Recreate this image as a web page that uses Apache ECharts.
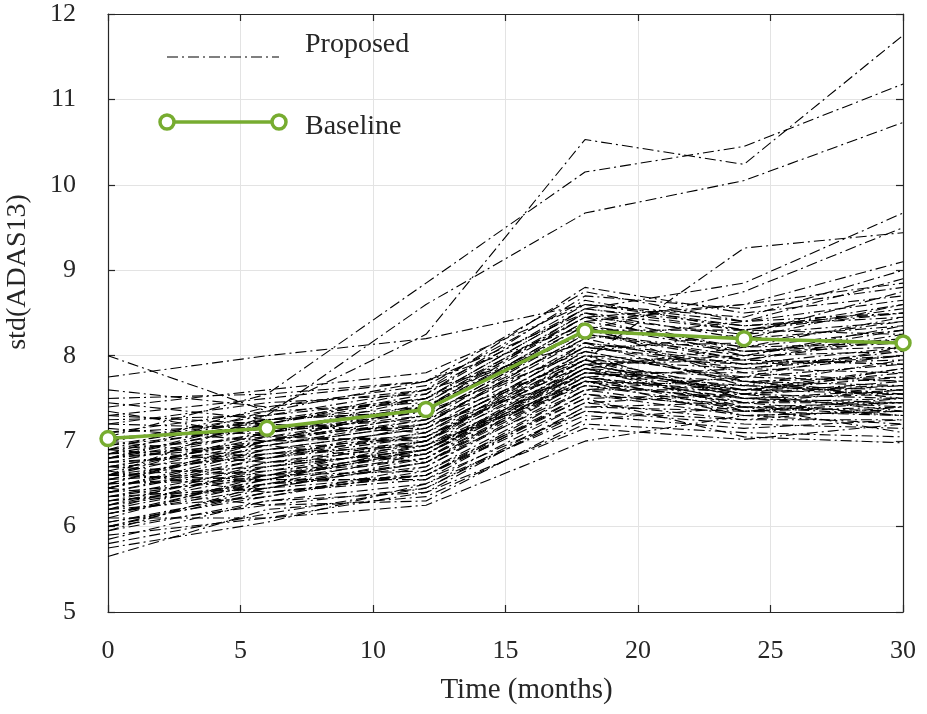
<!DOCTYPE html>
<html>
<head>
<meta charset="utf-8">
<title>std(ADAS13) over time</title>
<script src="https://cdn.jsdelivr.net/npm/echarts@6/dist/echarts.min.js"></script>
<style>
  html, body { margin: 0; padding: 0; background: #fff; }
  #chart { width: 927px; height: 714px; }
</style>
</head>
<body>
<div id="chart"></div>
<script>
// Visit times (months)
const months = [0, 6, 12, 18, 24, 30];

// Baseline model
const baseline = [7.03, 7.15, 7.37, 8.29, 8.20, 8.15];

// Proposed model: one row per run, values at each visit
const proposedRuns = [
  [6.85, 7.35, 8.25, 10.53, 10.24, 11.75],
  [7.05, 7.55, 8.85, 10.15, 10.45, 11.18],
  [6.60, 7.30, 8.60, 9.67, 10.05, 10.73],
  [6.70, 7.00, 7.25, 7.95, 9.26, 9.44],
  [7.75, 8.00, 8.20, 8.60, 8.40, 8.50],
  [8.00, 7.35, 7.70, 8.50, 8.30, 8.60],
  [6.90, 7.20, 7.60, 8.55, 8.85, 9.67],
  [6.50, 7.00, 7.40, 8.30, 8.75, 9.50],
  [6.80, 7.10, 7.50, 8.45, 8.60, 9.10],
  [7.00, 7.30, 7.60, 8.80, 8.50, 8.70],
  [7.30, 7.50, 7.70, 8.75, 8.40, 8.90],
  [7.20, 7.45, 7.55, 8.70, 8.55, 8.80],
  [6.90, 7.40, 7.65, 8.65, 8.30, 8.55],
  [7.40, 7.60, 7.80, 8.60, 8.45, 9.00],
  [6.80, 7.20, 7.50, 8.55, 8.35, 8.45],
  [7.10, 7.35, 7.45, 8.50, 8.20, 8.60],
  [6.60, 7.10, 7.40, 8.45, 8.25, 8.40],
  [6.95, 7.25, 7.35, 8.40, 8.60, 8.85],
  [7.50, 7.55, 7.70, 8.35, 8.10, 8.30],
  [6.70, 7.00, 7.30, 8.30, 8.30, 8.50],
  [7.25, 7.30, 7.50, 8.25, 8.05, 8.20],
  [6.50, 6.95, 7.20, 8.20, 8.40, 8.65],
  [7.60, 7.40, 7.60, 8.15, 7.95, 8.25],
  [6.85, 7.15, 7.25, 8.10, 8.15, 8.40],
  [7.35, 7.05, 7.35, 8.05, 8.25, 8.75],
  [6.75, 6.90, 7.15, 8.00, 7.90, 8.10],
  [6.60, 6.85, 7.10, 7.95, 7.85, 8.00],
  [7.15, 7.00, 7.05, 7.90, 8.00, 8.35],
  [6.45, 6.80, 7.00, 7.85, 7.75, 7.90],
  [6.90, 6.75, 6.95, 7.80, 7.60, 7.85],
  [6.35, 6.70, 6.90, 7.80, 7.70, 7.75],
  [7.00, 6.80, 7.20, 7.75, 7.50, 7.60],
  [6.55, 6.65, 6.85, 7.75, 7.55, 7.70],
  [6.25, 6.60, 6.80, 7.70, 7.45, 7.50],
  [6.80, 6.95, 6.75, 7.70, 7.65, 7.95],
  [6.40, 6.55, 6.95, 7.65, 7.40, 7.45],
  [6.15, 6.50, 6.70, 7.65, 7.50, 7.55],
  [6.70, 6.60, 6.65, 7.60, 7.35, 7.40],
  [6.30, 6.45, 6.75, 7.60, 7.60, 7.80],
  [6.05, 6.40, 6.60, 7.55, 7.40, 7.30],
  [6.50, 6.55, 6.55, 7.55, 7.30, 7.35],
  [6.20, 6.35, 6.65, 7.50, 7.55, 7.65],
  [5.95, 6.30, 6.50, 7.45, 7.25, 7.25],
  [6.45, 6.25, 6.45, 7.40, 7.45, 7.60],
  [6.00, 6.40, 6.55, 7.35, 7.20, 7.15],
  [6.60, 6.70, 6.90, 7.85, 8.10, 8.45],
  [6.35, 6.60, 6.85, 7.90, 7.95, 8.20],
  [7.05, 7.10, 7.30, 8.20, 7.80, 7.70],
  [6.25, 6.50, 6.75, 7.75, 7.85, 8.05],
  [6.15, 6.45, 6.60, 7.60, 7.75, 8.10],
  [7.45, 7.25, 7.40, 8.35, 7.70, 7.50],
  [6.90, 7.05, 7.00, 8.15, 7.65, 7.55],
  [6.55, 6.90, 7.05, 7.95, 7.35, 7.45],
  [6.75, 6.85, 6.95, 7.70, 7.30, 7.20],
  [7.20, 7.15, 7.15, 8.00, 7.50, 7.40],
  [6.40, 6.75, 6.85, 7.80, 7.80, 8.00],
  [5.85, 6.30, 6.40, 7.40, 7.35, 7.50],
  [6.05, 6.35, 6.70, 7.70, 7.60, 7.75],
  [6.65, 6.40, 6.60, 7.45, 7.55, 7.85],
  [7.30, 7.20, 7.10, 8.10, 7.90, 8.00],
  [6.80, 7.00, 7.45, 8.45, 8.00, 8.30],
  [6.20, 6.55, 6.80, 7.85, 7.60, 7.65],
  [6.45, 6.85, 7.05, 8.05, 7.70, 7.65],
  [6.65, 7.05, 7.20, 8.25, 7.95, 7.90],
  [6.30, 6.65, 6.95, 7.95, 7.60, 7.55],
  [6.75, 7.10, 7.35, 8.40, 8.10, 8.15],
  [6.10, 6.60, 6.90, 7.90, 7.55, 7.35],
  [6.55, 6.95, 7.25, 8.30, 8.20, 8.35],
  [6.40, 6.80, 7.10, 8.10, 7.85, 7.80],
  [6.95, 7.15, 7.40, 8.50, 8.05, 8.10],
  [6.25, 6.75, 7.00, 7.95, 7.50, 7.45],
  [7.10, 7.20, 7.55, 8.60, 8.35, 8.50],
  [6.60, 6.55, 6.90, 7.85, 7.45, 7.30],
  [6.35, 6.45, 6.80, 7.75, 7.35, 7.30],
  [6.85, 6.95, 7.20, 8.25, 8.00, 8.05],
  [6.00, 6.45, 6.75, 7.80, 7.65, 7.60],
  [6.50, 6.60, 7.00, 8.00, 7.75, 7.70],
  [7.00, 7.25, 7.50, 8.55, 8.30, 8.25],
  [6.20, 6.70, 7.00, 8.05, 7.70, 7.55],
  [6.70, 6.80, 7.05, 7.90, 7.55, 7.50],
  [6.45, 6.90, 7.15, 8.15, 7.90, 7.95],
  [5.95, 6.50, 6.85, 7.85, 7.40, 7.35],
  [6.80, 7.25, 7.35, 8.35, 8.05, 8.15],
  [6.15, 6.55, 6.90, 7.70, 7.45, 7.45],
  [6.60, 7.00, 7.30, 8.30, 7.95, 7.90],
  [5.90, 6.10, 6.25, 7.00, 7.30, 7.35],
  [6.10, 6.10, 6.40, 7.15, 7.02, 7.20],
  [6.30, 6.50, 6.60, 7.50, 7.05, 6.98],
  [5.65, 6.20, 6.35, 7.20, 7.10, 7.05],
  [5.75, 6.05, 6.50, 7.30, 7.15, 7.25],
  [6.00, 6.25, 6.30, 7.25, 7.40, 7.10],
  [5.80, 6.15, 6.45, 7.35, 7.25, 7.40]
];

const xTicks = { min: 0, max: 30, step: 5 };
const yTicks = { min: 5, max: 12, step: 1 };

const FONT = '"Liberation Serif", "DejaVu Serif", serif';
const INK = '#262626';
const GRID = '#e3e3e3';
const GREEN = '#77AC30';
const DASH_DOT = [11, 4, 2, 4];

const pairUp = vals => months.map((m, i) => [m, vals[i]]);

const series = proposedRuns.map(run => ({
  name: 'Proposed',
  type: 'line',
  data: pairUp(run),
  symbol: 'none',
  silent: true,
  z: 2,
  lineStyle: { color: '#000', width: 1.1, type: DASH_DOT }
}));

series.push({
  name: 'Baseline',
  type: 'line',
  data: pairUp(baseline),
  symbol: 'circle',
  symbolSize: 14,
  showAllSymbol: true,
  z: 5,
  lineStyle: { color: GREEN, width: 3.5 },
  itemStyle: { color: '#fff', borderColor: GREEN, borderWidth: 3.5 }
});

const axisCommon = {
  axisLine: { show: true, onZero: false, lineStyle: { color: INK, width: 1.2 } },
  axisTick: { show: true, inside: true, length: 7, lineStyle: { color: INK, width: 1.2 } }
};

const chart = echarts.init(document.getElementById('chart'), null, { renderer: 'canvas' });

chart.setOption({
  animation: false,
  backgroundColor: '#fff',
  grid: { left: 108, right: 24, top: 14, bottom: 102, containLabel: false, outerBoundsMode: 'none' },
  xAxis: [
    Object.assign({
      type: 'value', position: 'bottom',
      min: xTicks.min, max: xTicks.max, interval: xTicks.step,
      name: 'Time (months)', nameLocation: 'middle', nameGap: 64,
      nameTextStyle: { fontFamily: FONT, fontSize: 29, color: INK, padding: [0, 0, 0, 42] },
      axisLabel: { fontFamily: FONT, fontSize: 26, color: INK, margin: 26 },
      splitLine: { show: true, lineStyle: { color: GRID, width: 1 } }
    }, axisCommon),
    Object.assign({
      type: 'value', position: 'top',
      min: xTicks.min, max: xTicks.max, interval: xTicks.step,
      axisLabel: { show: false }, splitLine: { show: false }
    }, axisCommon)
  ],
  yAxis: [
    Object.assign({
      type: 'value', position: 'left',
      min: yTicks.min, max: yTicks.max, interval: yTicks.step,
      name: 'std(ADAS13)', nameLocation: 'middle', nameGap: 76, nameRotate: 90,
      nameTextStyle: { fontFamily: FONT, fontSize: 28, color: INK, padding: [0, 0, 0, 82] },
      axisLabel: { fontFamily: FONT, fontSize: 26, color: INK, margin: 32, align: 'right' },
      splitLine: { show: true, lineStyle: { color: GRID, width: 1 } }
    }, axisCommon),
    Object.assign({
      type: 'value', position: 'right',
      min: yTicks.min, max: yTicks.max, interval: yTicks.step,
      axisLabel: { show: false }, splitLine: { show: false }
    }, axisCommon)
  ],
  series: series,
  graphic: [
    { type: 'line', z: 100, shape: { x1: 167, y1: 57, x2: 279, y2: 57 },
      style: { stroke: '#000', lineWidth: 1.1, lineDash: DASH_DOT } },
    { type: 'text', z: 100, x: 305, y: 45,
      style: { text: 'Proposed', font: '28px ' + FONT, fill: INK, verticalAlign: 'middle' } },
    { type: 'line', z: 100, shape: { x1: 167, y1: 122, x2: 279, y2: 122 },
      style: { stroke: GREEN, lineWidth: 3.5 } },
    { type: 'circle', z: 101, shape: { cx: 167, cy: 122, r: 7 },
      style: { fill: '#fff', stroke: GREEN, lineWidth: 3.5 } },
    { type: 'circle', z: 101, shape: { cx: 279, cy: 122, r: 7 },
      style: { fill: '#fff', stroke: GREEN, lineWidth: 3.5 } },
    { type: 'text', z: 100, x: 305, y: 127,
      style: { text: 'Baseline', font: '28px ' + FONT, fill: INK, verticalAlign: 'middle' } }
  ]
});
</script>
</body>
</html>
